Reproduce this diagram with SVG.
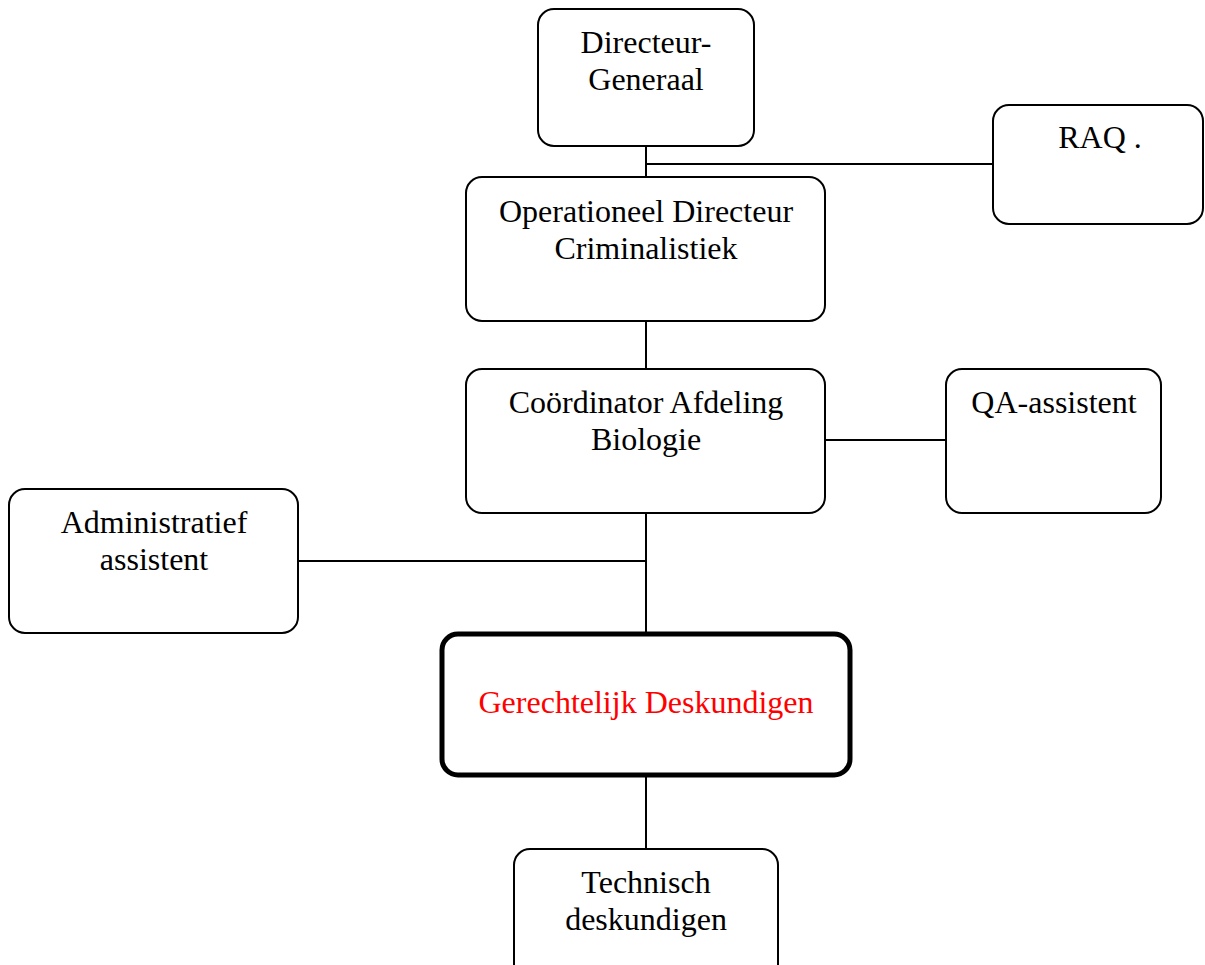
<svg xmlns="http://www.w3.org/2000/svg" width="1205" height="965" viewBox="0 0 1205 965">
<style>
.box{fill:#fff;stroke:#000;stroke-width:2}
.thick{fill:#fff;stroke:#000;stroke-width:5}
.t{font-family:"Liberation Serif","Times New Roman",serif;font-size:32px;fill:#000;text-anchor:middle}
.red{fill:#ff0000}
.c{stroke:#000;stroke-width:2;fill:none}
</style>
<rect width="1205" height="965" fill="#fff"/>
<g id="connectors">
<line class="c" x1="646" y1="146" x2="646" y2="177"/>
<line class="c" x1="646" y1="164" x2="993" y2="164"/>
<line class="c" x1="646" y1="321" x2="646" y2="369"/>
<line class="c" x1="825" y1="440" x2="946" y2="440"/>
<line class="c" x1="646" y1="513" x2="646" y2="632"/>
<line class="c" x1="298" y1="561" x2="646" y2="561"/>
<line class="c" x1="646" y1="777" x2="646" y2="849"/>
</g>
<g id="directeur-generaal">
<rect class="box" x="538" y="9" width="216" height="137" rx="16"/>
<text class="t" x="646" y="53">Directeur-</text>
<text class="t" x="646" y="90">Generaal</text>
</g>
<g id="raq">
<rect class="box" x="993" y="105" width="210" height="119" rx="16"/>
<text class="t" x="1100" y="148">RAQ .</text>
</g>
<g id="operationeel-directeur">
<rect class="box" x="466" y="177" width="359" height="144" rx="16"/>
<text class="t" x="646" y="222">Operationeel Directeur</text>
<text class="t" x="646" y="259">Criminalistiek</text>
</g>
<g id="coordinator">
<rect class="box" x="466" y="369" width="359" height="144" rx="16"/>
<text class="t" x="646" y="413">Coördinator Afdeling</text>
<text class="t" x="646" y="450">Biologie</text>
</g>
<g id="qa-assistent">
<rect class="box" x="946" y="369" width="215" height="144" rx="16"/>
<text class="t" x="1054" y="413">QA-assistent</text>
</g>
<g id="administratief-assistent">
<rect class="box" x="9" y="489" width="289" height="144" rx="16"/>
<text class="t" x="154" y="533">Administratief</text>
<text class="t" x="154" y="570">assistent</text>
</g>
<g id="gerechtelijk-deskundigen">
<rect class="thick" x="442" y="634" width="408" height="141" rx="16"/>
<text class="t red" x="646" y="713">Gerechtelijk Deskundigen</text>
</g>
<g id="technisch-deskundigen">
<rect class="box" x="514" y="849" width="264" height="140" rx="16"/>
<text class="t" x="646" y="893">Technisch</text>
<text class="t" x="646" y="930">deskundigen</text>
</g>
</svg>
